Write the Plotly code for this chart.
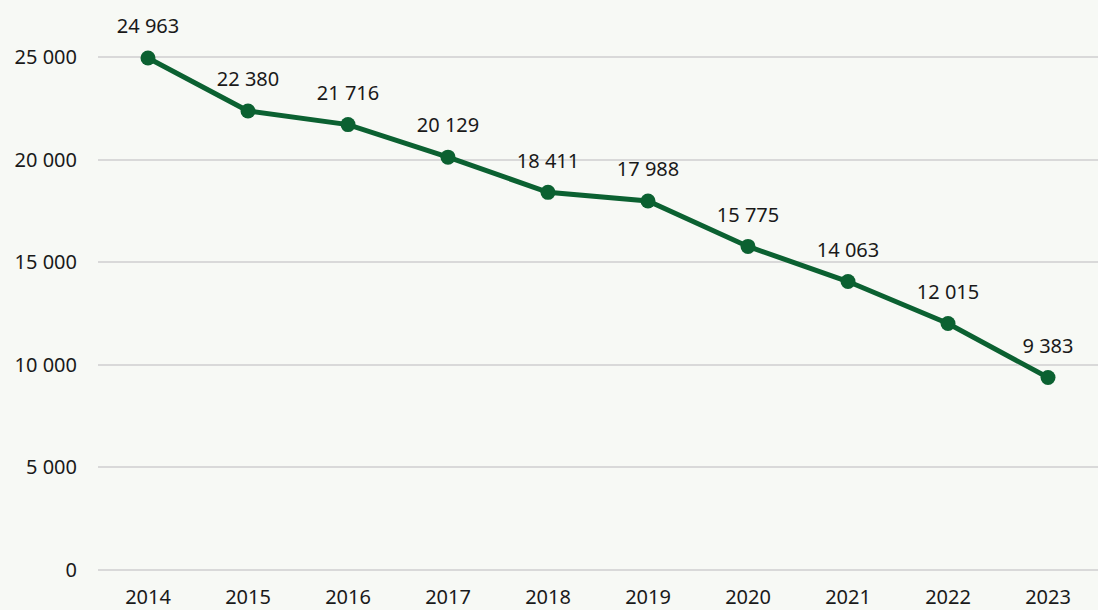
import plotly.graph_objects as go

years = ["2014", "2015", "2016", "2017", "2018", "2019", "2020", "2021", "2022", "2023"]
values = [24963, 22380, 21716, 20129, 18411, 17988, 15775, 14063, 12015, 9383]
ytick_vals = [0, 5000, 10000, 15000, 20000, 25000]

GREEN = "#0b6131"
BG = "#f7f9f5"
FONT = "Noto Sans"
TXT = "#1a1a1a"

fig = go.Figure()
fig.add_trace(go.Scatter(
    x=years, y=values, mode="lines+markers",
    line=dict(color=GREEN, width=5),
    marker=dict(color=GREEN, size=15),
    hoverinfo="skip", showlegend=False, cliponaxis=False,
))
# value labels (invisible markers give the vertical offset)
fig.add_trace(go.Scatter(
    x=years, y=values, mode="markers+text",
    marker=dict(size=30, opacity=0),
    text=[f"{v:,}".replace(",", " ") for v in values],
    textposition="top center",
    textfont=dict(family=FONT, size=20, color=TXT),
    hoverinfo="skip", showlegend=False, cliponaxis=False,
))

fig.update_layout(
    width=1098, height=610,
    paper_bgcolor=BG, plot_bgcolor=BG,
    margin=dict(l=98, r=0, t=56, b=32),
    separators=", ",
    font=dict(family=FONT, size=20, color=TXT),
    xaxis=dict(
        type="category", range=[-0.5, 9.5], showgrid=False, zeroline=False,
        showline=False, ticks="", ticklabelstandoff=11,
    ),
    yaxis=dict(
        range=[-100, 25060], tickvals=ytick_vals, tickformat=",d",
        showgrid=True, gridcolor="#d9d9d9", gridwidth=2,
        zeroline=True, zerolinecolor="#d9d9d9", zerolinewidth=2,
        showline=False, ticks="", ticklabelstandoff=20,
    ),
)

fig.write_html("out.html", config={"displayModeBar": False},
               post_script="document.body.style.margin='0';")
